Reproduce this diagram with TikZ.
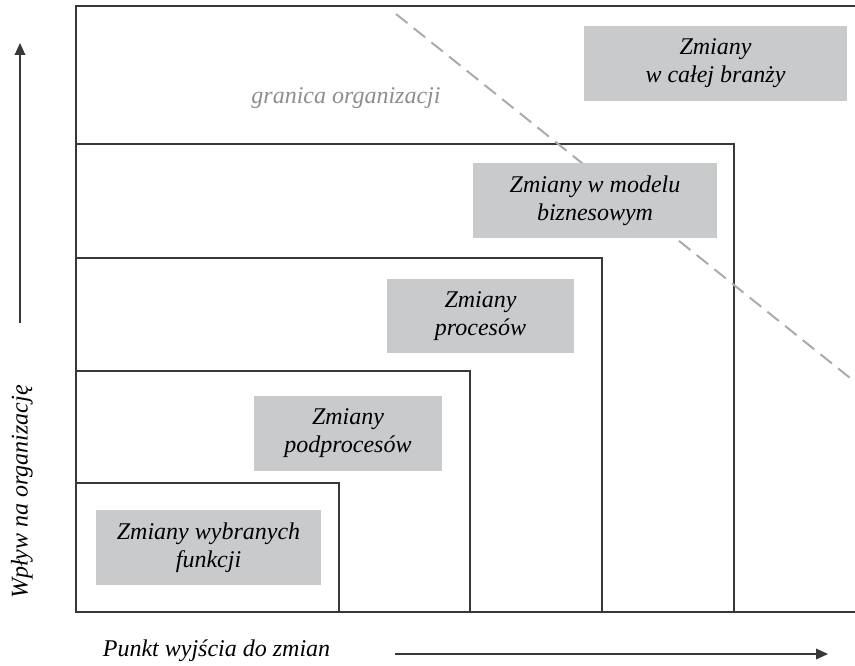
\documentclass[tikz,border=0pt]{standalone}
\usepackage{fontspec}
\setmainfont{Liberation Serif}
\usetikzlibrary{arrows.meta}
\definecolor{boxgray}{HTML}{C9CACC}
\definecolor{linegray}{HTML}{383838}
\definecolor{dashgray}{HTML}{ABABAB}
\definecolor{labelgray}{HTML}{8E8E8E}
\tikzset{
  labelfont/.style={font=\fontsize{18}{21}\selectfont\itshape},
  changebox/.style={labelfont, fill=boxgray, inner sep=0pt, align=center, minimum height=56pt},
  frameline/.style={draw=linegray, line width=1pt},
  axisarrow/.style={linegray, line width=1pt, -{Triangle[length=9pt,width=8pt]}},
}
\begin{document}
\begin{tikzpicture}[x=0.75pt,y=0.75pt]
    \useasboundingbox (0,0) rectangle (855,665);
    % frame and nested ranges of change
    \draw[frameline] (855,659) -- (76,659) -- (76,53) -- (855,53);
    \draw[frameline] (76,521) -- (734,521) -- (734,53);
    \draw[frameline] (76,407) -- (602,407) -- (602,53);
    \draw[frameline] (76,294) -- (470,294) -- (470,53);
    \draw[frameline] (76,182) -- (339,182) -- (339,53);
    % organisation boundary
    \draw[dashgray, line width=1.5pt, dash pattern=on 11pt off 6pt] (396,651) -- (865,275);
    \node[labelfont, text=labelgray] (granica) at (346,567) {granica organizacji};
    % ranges
    \node[changebox, minimum width=197pt] (branza) at (715.5,601.5) {Zmiany\\w całej branży};
    \node[changebox, minimum width=183pt] (model) at (595,464.5) {Zmiany w modelu\\biznesowym};
    \node[changebox, minimum width=140pt] (procesy) at (480.5,349) {Zmiany\\procesów};
    \node[changebox, minimum width=141pt] (podprocesy) at (348,231.5) {Zmiany\\podprocesów};
    \node[changebox, minimum width=169pt] (funkcje) at (208.5,117.5) {Zmiany wybranych\\funkcji};
    % axes
    \coordinate (ybot) at (20,342);
    \coordinate (ytop) at (20,622);
    \draw[axisarrow] (ybot) -- (ytop);
    \node[labelfont, rotate=90] (wplyw) at (22,173) {Wpływ na organizację};
    \coordinate (xleft) at (395,11);
    \coordinate (xright) at (828,11);
    \draw[axisarrow] (xleft) -- (xright);
    \node[labelfont] (punkt) at (216.5,14) {Punkt wyjścia do zmian};
\end{tikzpicture}
\end{document}
